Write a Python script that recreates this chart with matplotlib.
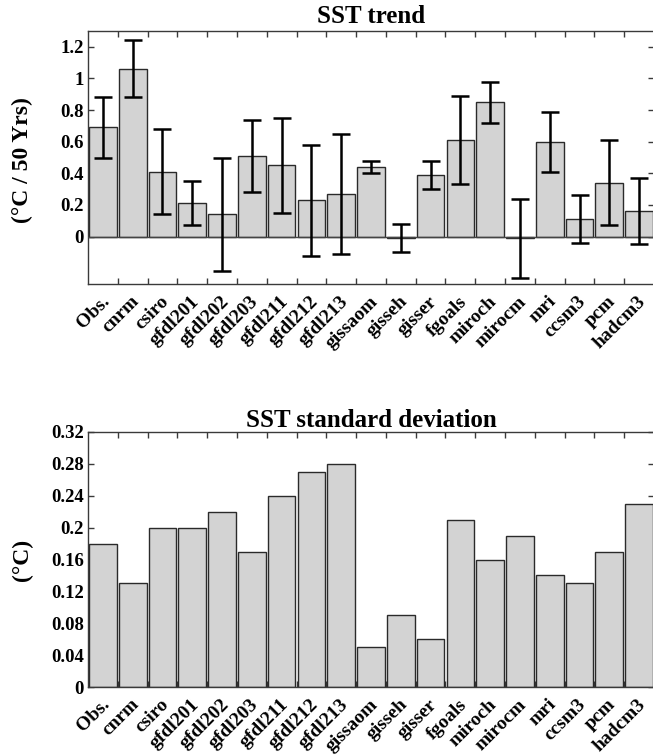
import numpy as np
import matplotlib
matplotlib.use("Agg")
import matplotlib.pyplot as plt
import matplotlib.transforms as mtransforms

plt.rcParams['font.family'] = ['Liberation Serif', 'DejaVu Serif']
plt.rcParams['font.weight'] = 'bold'

models = ["Obs.", "cnrm", "csiro", "gfdl201", "gfdl202", "gfdl203", "gfdl211",
          "gfdl212", "gfdl213", "gissaom", "gisseh", "gisser", "fgoals", "miroch",
          "mirocm", "mri", "ccsm3", "pcm", "hadcm3"]

trend = [0.69, 1.06, 0.41, 0.21, 0.14, 0.51, 0.45, 0.23, 0.27, 0.44, -0.01,
         0.39, 0.61, 0.85, -0.01, 0.60, 0.11, 0.34, 0.16]
trend_hi = [0.88, 1.24, 0.68, 0.35, 0.50, 0.74, 0.75, 0.58, 0.65, 0.48, 0.08,
            0.48, 0.89, 0.98, 0.24, 0.79, 0.26, 0.61, 0.37]
trend_lo = [0.50, 0.88, 0.14, 0.07, -0.22, 0.28, 0.15, -0.12, -0.11, 0.40, -0.10,
            0.30, 0.33, 0.72, -0.26, 0.41, -0.04, 0.07, -0.05]
sst_sd = [0.18, 0.13, 0.20, 0.20, 0.22, 0.17, 0.24, 0.27, 0.28, 0.05, 0.09,
          0.06, 0.21, 0.16, 0.19, 0.14, 0.13, 0.17, 0.23]

trend_ticks = [0, 0.2, 0.4, 0.6, 0.8, 1.0, 1.2]
trend_ticklabels = ["0", "0.2", "0.4", "0.6", "0.8", "1", "1.2"]
sd_ticks = [0, 0.04, 0.08, 0.12, 0.16, 0.2, 0.24, 0.28, 0.32]
sd_ticklabels = ["0", "0.04", "0.08", "0.12", "0.16", "0.2", "0.24", "0.28", "0.32"]

W, H = 653, 756
fig = plt.figure(figsize=(W / 100, H / 100), dpi=100)

BAR_FC = '#d3d3d3'
BAR_EC = '#2a2a2a'
SPINE = '#3a3a3a'
TICK_FS = 13.5
XLAB_FS = 14
n = len(models)
x = np.arange(n)


def px_rect(l, t, r, b):
    return [l / W, 1 - b / H, (r - l) / W, (b - t) / H]


def style_axes(ax, ticks, ticklabels, ylim):
    ax.set_xlim(-0.5, n - 0.5)
    ax.set_ylim(*ylim)
    ax.set_xticks(np.arange(n - 1) + 0.5)
    ax.set_xticklabels([])
    ax.set_yticks(ticks)
    ax.set_yticklabels(ticklabels, fontsize=TICK_FS, fontweight='bold')
    ax.tick_params(direction='in', length=4.5, width=1, color=SPINE,
                   top=True, right=True, bottom=True, left=True, pad=3)
    for s in ax.spines.values():
        s.set_color(SPINE)
        s.set_linewidth(1.0)
    # rotated model labels, anchored under each bar
    base = mtransforms.blended_transform_factory(ax.transData, ax.transAxes)
    off = mtransforms.ScaledTranslation(-2 / 100, -9 / 100, fig.dpi_scale_trans)
    for i, name in enumerate(models):
        ax.text(x[i], 0, name, transform=base + off, rotation=45,
                ha='right', va='top', rotation_mode='anchor',
                fontsize=XLAB_FS, fontweight='bold', clip_on=False)


# --- top panel: SST trend
ax1 = fig.add_axes(px_rect(88, 31, 654, 284))
trend_a = np.array(trend)
yerr = [trend_a - np.array(trend_lo), np.array(trend_hi) - trend_a]
ax1.bar(x, trend, width=0.93, color=BAR_FC, edgecolor=BAR_EC, linewidth=1.0, zorder=2)
ax1.axhline(0, color='#444444', lw=1.0, zorder=3)
ax1.errorbar(x, trend, yerr=yerr, fmt='none', ecolor='black', elinewidth=1.8,
             capsize=6.5, capthick=1.8, zorder=4)
style_axes(ax1, trend_ticks, trend_ticklabels, (-0.3, 1.3))
ax1.set_title("SST trend", fontsize=18, fontweight='bold', pad=6)
ax1.set_ylabel("(°C / 50 Yrs)", fontsize=17, fontweight='bold', va='center')
ax1.yaxis.set_label_coords((22 - 88) / 566, 0.49)

# --- bottom panel: SST standard deviation
ax2 = fig.add_axes(px_rect(88, 432, 654, 687))
ax2.bar(x, sst_sd, width=0.93, color=BAR_FC, edgecolor=BAR_EC, linewidth=1.0, zorder=2)
style_axes(ax2, sd_ticks, sd_ticklabels, (0, 0.32))
ax2.set_title("SST standard deviation", fontsize=18, fontweight='bold', pad=3)
ax2.set_ylabel("(°C)", fontsize=17, fontweight='bold', va='center')
ax2.yaxis.set_label_coords((22 - 88) / 566, 0.5)

fig.savefig("out.png", dpi=100)
